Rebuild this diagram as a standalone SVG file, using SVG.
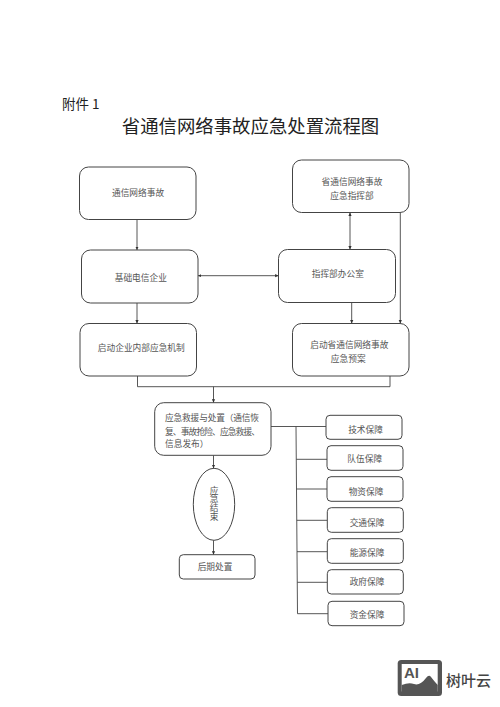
<svg xmlns="http://www.w3.org/2000/svg" width="500" height="707" viewBox="0 0 500 707">
<style>
text{font-family:"Noto Sans CJK SC","Noto Sans",sans-serif;fill:#555;font-size:8.7px;text-anchor:middle;dominant-baseline:central}
.b{fill:#fff;stroke:#444;stroke-width:1}
.c{fill:none;stroke:#444;stroke-width:.9}
.a{marker-end:url(#ah)}
.d{marker-start:url(#ah);marker-end:url(#ah)}
.l{text-anchor:start}
.v{writing-mode:vertical-rl;text-orientation:upright}
</style>
<defs>
<marker id="ah" markerUnits="userSpaceOnUse" markerWidth="4" markerHeight="4" refX="3.4" refY="2" orient="auto-start-reverse"><path d="M0 .4L3.4 2L0 3.6z" fill="#333"/></marker>
</defs>
<rect width="500" height="707" fill="#fff"/>
<text id="attachment" class="l" x="62" y="102.5" style="font-size:13.5px;fill:#222">附件 1</text>
<text id="title" x="250.5" y="125" style="font-size:18.4px;fill:#222">省通信网络事故应急处置流程图</text>
<g id="connectors">
<path class="c a" d="M137 219.5V250"/>
<path class="c a" d="M137 303V323.5"/>
<path class="c d" d="M198 275.7H278.5"/>
<path class="c d" d="M350 212.5V249.5"/>
<path class="c a" d="M351.7 302.5V323.5"/>
<path class="c a" d="M400.3 212.5V323.5"/>
<path class="c" d="M137.5 376V386.7H390V376"/>
<path class="c a" d="M213.5 386.7V402.7"/>
<path class="c a" d="M213.5 455.3V468.3"/>
<path class="c a" d="M213.5 540.3V554.7"/>
<path class="c" d="M271 426.5H326M296 426.5L297.5 613.7H328M296.3 459.3H327M296.6 489H327M296.8 520.3H327.3M297 551.7H327.3M297.3 582.3H327.3"/>
</g>
<g id="n1"><rect class="b" x="79.5" y="167" width="116.5" height="52.5" rx="9"/><text x="138" y="192">通信网络事故</text></g>
<g id="n2"><rect class="b" x="81.5" y="250" width="116.5" height="53" rx="9"/><text x="140.8" y="277.7">基础电信企业</text></g>
<g id="n3"><rect class="b" x="80" y="323.5" width="116.5" height="52.5" rx="9"/><text x="141.3" y="347">启动企业内部应急机制</text></g>
<g id="r1"><rect class="b" x="292.5" y="160" width="116.5" height="52.5" rx="9"/><text x="352" y="181.7">省通信网络事故</text><text x="352" y="195">应急指挥部</text></g>
<g id="r2"><rect class="b" x="278.5" y="249.5" width="117" height="53" rx="9"/><text x="337.8" y="273.3">指挥部办公室</text></g>
<g id="r3"><rect class="b" x="292.5" y="323.5" width="116.5" height="52.5" rx="9"/><text x="349.3" y="344.3">启动省通信网络事故</text><text x="348.2" y="358">应急预案</text></g>
<g id="rescue"><rect class="b" x="154.7" y="402.7" width="116.3" height="52.6" rx="9"/>
<text class="l" x="165" y="417.7" textLength="94">应急救援与处置（通信恢</text>
<text class="l" x="165" y="431" textLength="95">复、事故抢险、应急救援、</text>
<text class="l" x="165" y="443">信息发布）</text></g>
<g id="end"><ellipse class="b" cx="214" cy="504.3" rx="20.7" ry="36"/><text class="v" x="214" y="503.5">应急结束</text></g>
<g id="after"><rect class="b" x="179.3" y="554.7" width="75.7" height="24.3" rx="4"/><text x="215" y="566">后期处置</text></g>
<g id="s1"><rect class="b" x="326" y="415.3" width="76" height="24" rx="4"/><text x="365.5" y="429.7">技术保障</text></g>
<g id="s2"><rect class="b" x="327" y="445.7" width="76" height="24.6" rx="4"/><text x="364.7" y="458.3">队伍保障</text></g>
<g id="s3"><rect class="b" x="327" y="476.7" width="76" height="24.6" rx="4"/><text x="366" y="491.3">物资保障</text></g>
<g id="s4"><rect class="b" x="327.3" y="507.7" width="76" height="24.6" rx="4"/><text x="367" y="522.3">交通保障</text></g>
<g id="s5"><rect class="b" x="327.3" y="538.7" width="76" height="24.6" rx="4"/><text x="367" y="552.3">能源保障</text></g>
<g id="s6"><rect class="b" x="327.3" y="569.7" width="76" height="24.3" rx="4"/><text x="367" y="581.7">政府保障</text></g>
<g id="s7"><rect x="328" y="601.3" width="76" height="24.4" rx="4" class="b"/><text x="367" y="614.7">资金保障</text></g>
<g id="watermark">
<rect x="397.7" y="660" width="44.3" height="36" rx="3.5" fill="#555"/>
<rect x="401.7" y="664" width="36" height="27.5" fill="#fff"/>
<path d="M401.7 685Q409 682 414 684Q420 686 426 678Q429 674 431 677Q434 681 437.7 685V692H401.7z" fill="#555"/>
<text class="l" x="404" y="672.5" style="font-family:'Liberation Sans',sans-serif;font-size:15px;font-weight:700;fill:#555">AI</text>
<text class="l" x="446" y="679" style="font-size:15px;fill:#444;font-weight:500">树叶云</text>
</g>
</svg>
